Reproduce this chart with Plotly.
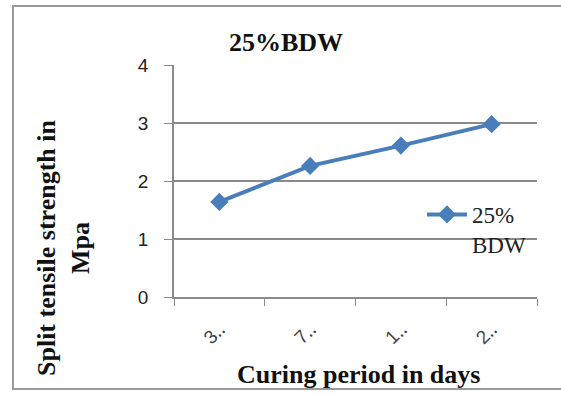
import plotly.graph_objects as go

# ---- data ----
categories = ["3 days", "7 days", "14 days", "28 days"]
tick_labels = ["3‥", "7‥", "1‥", "2‥"]
strength = [1.64, 2.26, 2.61, 2.98]
series_name = "25%<br>BDW"
title_text = "25%BDW"
x_title = "Curing period in days"
y_title = "Split tensile strength in<br>Mpa"
y_ticks = [0, 1, 2, 3, 4]

# ---- layout geometry (pixels) ----
W, H = 561, 394
L, R, T, B = 174, 537, 65, 297


def px(x):
    return (x - L) / (R - L)


def py(y):
    return (B - y) / (B - T)


SERIF = "Liberation Serif"
SANS = "Liberation Sans"
GRID = "#8a8a8a"
BLUE = "#4A7EBB"

fig = go.Figure()
fig.add_trace(go.Scatter(
    x=categories, y=strength, name=series_name,
    mode="lines+markers",
    line=dict(color=BLUE, width=4),
    marker=dict(symbol="diamond", size=14, color=BLUE),
    showlegend=True,
))

fig.update_layout(
    width=W, height=H,
    margin=dict(l=L, r=W - R, t=T, b=H - B),
    paper_bgcolor="white", plot_bgcolor="white",
    showlegend=True,
    legend=dict(
        x=px(422), y=py(193), xanchor="left", yanchor="top",
        bgcolor="rgba(0,0,0,0)", valign="top",
        font=dict(family=SERIF, size=23, color="#222"),
        itemwidth=40,
    ),
    xaxis=dict(
        type="category", categoryorder="array", categoryarray=categories,
        tickvals=categories, ticktext=tick_labels, tickangle=-45,
        tickson="boundaries", ticks="outside", ticklen=7, tickcolor=GRID,
        showline=True, linecolor=GRID, linewidth=1.5,
        showgrid=False, zeroline=False,
        tickfont=dict(family=SANS, size=19, color="#444"),
        ticklabelstandoff=12,
        range=[-0.5, 3.5],
    ),
    yaxis=dict(
        range=[0, 4], tickvals=y_ticks, ticks="outside", ticklen=8,
        tickcolor=GRID, showline=True, linecolor=GRID, linewidth=1.5,
        showgrid=True, gridcolor=GRID, gridwidth=1.5, zeroline=False,
        tickfont=dict(family=SANS, size=19, color="#222"),
        ticklabelstandoff=12,
    ),
)

# chart title
fig.add_annotation(
    text="<b>" + title_text + "</b>", xref="paper", yref="paper",
    x=px(286), y=py(42), xanchor="center", yanchor="middle",
    showarrow=False, font=dict(family=SERIF, size=26, color="#111"),
)
# axis titles
fig.add_annotation(
    text="<b>" + x_title + "</b>", xref="paper", yref="paper",
    x=px(358), y=py(374), xanchor="center", yanchor="middle",
    showarrow=False, font=dict(family=SERIF, size=26, color="#111"),
)
fig.add_annotation(
    text="<b>" + y_title + "</b>", xref="paper", yref="paper",
    x=px(63), y=py(248), xanchor="center", yanchor="middle",
    textangle=-90, showarrow=False,
    font=dict(family=SERIF, size=26, color="#111"),
)

# outer chart frame
fig.add_shape(
    type="rect", xref="paper", yref="paper",
    x0=px(13), x1=px(568), y0=py(389), y1=py(6),
    line=dict(color="#9a9a9a", width=2), fillcolor="rgba(0,0,0,0)",
    layer="below",
)

fig.write_html("out.html")
